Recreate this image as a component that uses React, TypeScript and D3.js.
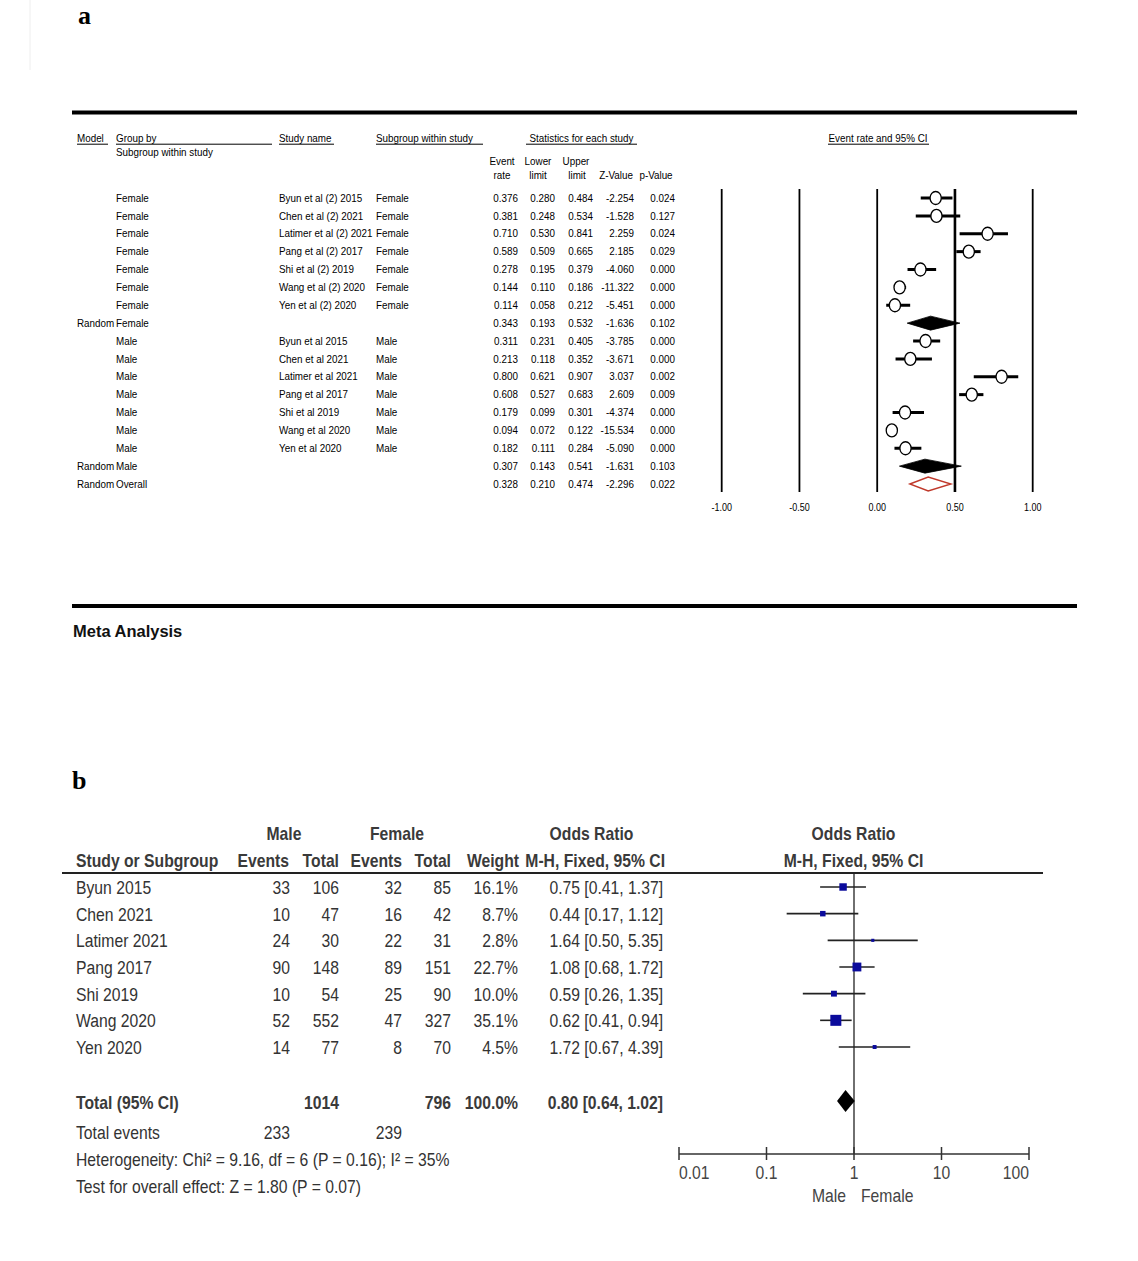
import * as d3 from "d3";

// ---- panel a: event rate by subgroup ----
const modelLabels = ["", "", "", "", "", "", "", "Random", "", "", "", "", "", "", "", "Random", "Random"];
const groupLabels = [
  "Female", "Female", "Female", "Female", "Female", "Female", "Female", "Female",
  "Male", "Male", "Male", "Male", "Male", "Male", "Male", "Male", "Overall",
];
const studyNames = [
  "Byun et al (2) 2015", "Chen et al (2) 2021", "Latimer et al (2) 2021", "Pang et al (2) 2017",
  "Shi et al (2) 2019", "Wang et al (2) 2020", "Yen et al (2) 2020", "",
  "Byun et al 2015", "Chen et al 2021", "Latimer et al 2021", "Pang et al 2017",
  "Shi et al 2019", "Wang et al 2020", "Yen et al 2020", "", "",
];
const subgroups = [
  "Female", "Female", "Female", "Female", "Female", "Female", "Female", "",
  "Male", "Male", "Male", "Male", "Male", "Male", "Male", "", "",
];
const rowKind = [
  "study", "study", "study", "study", "study", "study", "study", "sub",
  "study", "study", "study", "study", "study", "study", "study", "sub", "overall",
];
const eventRate = [0.376, 0.381, 0.71, 0.589, 0.278, 0.144, 0.114, 0.343, 0.311, 0.213, 0.8, 0.608, 0.179, 0.094, 0.182, 0.307, 0.328];
const lowerLimit = [0.28, 0.248, 0.53, 0.509, 0.195, 0.11, 0.058, 0.193, 0.231, 0.118, 0.621, 0.527, 0.099, 0.072, 0.111, 0.143, 0.21];
const upperLimit = [0.484, 0.534, 0.841, 0.665, 0.379, 0.186, 0.212, 0.532, 0.405, 0.352, 0.907, 0.683, 0.301, 0.122, 0.284, 0.541, 0.474];
const zValue = [-2.254, -1.528, 2.259, 2.185, -4.06, -11.322, -5.451, -1.636, -3.785, -3.671, 3.037, 2.609, -4.374, -15.534, -5.09, -1.631, -2.296];
const pValue = [0.024, 0.127, 0.024, 0.029, 0, 0, 0, 0.102, 0, 0, 0.002, 0.009, 0, 0, 0, 0.103, 0.022];
const ticksA = [-1, -0.5, 0, 0.5, 1];

// ---- panel b: odds ratio male vs female ----
const studiesB = ["Byun 2015", "Chen 2021", "Latimer 2021", "Pang 2017", "Shi 2019", "Wang 2020", "Yen 2020"];
const maleEvents = [33, 10, 24, 90, 10, 52, 14];
const maleTotal = [106, 47, 30, 148, 54, 552, 77];
const femaleEvents = [32, 16, 22, 89, 25, 47, 8];
const femaleTotal = [85, 42, 31, 151, 90, 327, 70];
const weights = [16.1, 8.7, 2.8, 22.7, 10.0, 35.1, 4.5];
const oddsRatio = [0.75, 0.44, 1.64, 1.08, 0.59, 0.62, 1.72];
const orLower = [0.41, 0.17, 0.5, 0.68, 0.26, 0.41, 0.67];
const orUpper = [1.37, 1.12, 5.35, 1.72, 1.35, 0.94, 4.39];
const totalOR = [0.8, 0.64, 1.02];
const totalN = [1014, 796];
const totalEvents = [233, 239];
const ticksB = [0.01, 0.1, 1, 10, 100];

const SANS = "'Liberation Sans', Arial, sans-serif";

// d3.format uses a unicode minus; the source figure uses a plain hyphen
const fmt = (spec: string) => {
  const f = d3.format(spec);
  return (v: number) => f(v).replace("\u2212", "-");
};

function T({ x, y, s = 1, anchor = "start", size, weight = "normal", fill = "#111", family = SANS, children }: any) {
  return (
    <text
      transform={`translate(${x},${y}) scale(${s},1)`}
      textAnchor={anchor}
      fontSize={size}
      fontWeight={weight}
      fill={fill}
      fontFamily={family}
    >
      {children}
    </text>
  );
}

function PanelA() {
  const x = d3.scaleLinear().domain([-1, 1]).range([721.7, 1032.7]);
  const y = d3.scaleLinear().domain([0, 16]).range([198, 484]);
  const f3 = fmt(".3f");
  const f2 = fmt(".2f");
  const sz = 10.6;
  const sc = 0.93;
  const A = (p: any) => <T size={sz} s={sc} fill="#000" {...p} />;
  const hb = 141.7;

  return (
    <g>
      <line x1={72} x2={1077} y1={112.5} y2={112.5} stroke="#000" strokeWidth={4} />
      {/* headers */}
      <A x={77} y={hb}>Model</A>
      <A x={116} y={hb}>Group by</A>
      <A x={116} y={155.5}>Subgroup within study</A>
      <A x={279} y={hb}>Study name</A>
      <A x={376} y={hb}>Subgroup within study</A>
      <A x={581.5} y={hb} anchor="middle">Statistics for each study</A>
      <A x={878} y={hb} anchor="middle">Event rate and 95% CI</A>
      {[[77, 108], [116, 272], [279, 334], [376, 483], [526, 637], [828, 929]].map(([a, b], i) => (
        <line key={i} x1={a} x2={b} y1={hb + 2.5} y2={hb + 2.5} stroke="#000" strokeWidth={1} />
      ))}
      <A x={502} y={165} anchor="middle">Event</A>
      <A x={538} y={165} anchor="middle">Lower</A>
      <A x={576} y={165} anchor="middle">Upper</A>
      <A x={502} y={179} anchor="middle">rate</A>
      <A x={538} y={179} anchor="middle">limit</A>
      <A x={577} y={179} anchor="middle">limit</A>
      <A x={616} y={179} anchor="middle">Z-Value</A>
      <A x={656} y={179} anchor="middle">p-Value</A>

      {/* rows */}
      {eventRate.map((v, i) => {
        const by = y(i) + 3.7;
        return (
          <g key={i}>
            {modelLabels[i] && <A x={77} y={by}>{modelLabels[i]}</A>}
            <A x={116} y={by}>{groupLabels[i]}</A>
            {studyNames[i] && <A x={279} y={by}>{studyNames[i]}</A>}
            {subgroups[i] && <A x={376} y={by}>{subgroups[i]}</A>}
            <A x={518} y={by} anchor="end">{f3(v)}</A>
            <A x={555} y={by} anchor="end">{f3(lowerLimit[i])}</A>
            <A x={593} y={by} anchor="end">{f3(upperLimit[i])}</A>
            <A x={634} y={by} anchor="end">{f3(zValue[i])}</A>
            <A x={675} y={by} anchor="end">{f3(pValue[i])}</A>
          </g>
        );
      })}

      {/* plot grid */}
      {ticksA.map((t) => (
        <g key={t}>
          <line x1={x(t)} x2={x(t)} y1={189} y2={492} stroke="#000" strokeWidth={t === 0.5 ? 2.6 : 1.8} />
          <T x={x(t)} y={511} size={10} s={0.9} anchor="middle" fill="#000">{f2(t)}</T>
        </g>
      ))}

      {/* markers */}
      {eventRate.map((v, i) => {
        const cy = y(i);
        if (rowKind[i] === "study") {
          return (
            <g key={i}>
              <line x1={x(lowerLimit[i])} x2={x(upperLimit[i])} y1={cy} y2={cy} stroke="#000" strokeWidth={3} />
              <ellipse cx={x(v)} cy={cy} rx={5.6} ry={6.5} fill="#fff" stroke="#000" strokeWidth={1.3} />
            </g>
          );
        }
        const pts = [
          [x(lowerLimit[i]), cy],
          [x(v), cy - 7],
          [x(upperLimit[i]), cy],
          [x(v), cy + 7],
        ];
        const d = "M" + pts.map((p) => p.join(",")).join("L") + "Z";
        return rowKind[i] === "sub" ? (
          <path key={i} d={d} fill="#000" stroke="#000" strokeWidth={0.8} />
        ) : (
          <path key={i} d={d} fill="#fff" stroke="#c0392b" strokeWidth={1.4} />
        );
      })}

      <line x1={72} x2={1077} y1={606} y2={606} stroke="#000" strokeWidth={4} />
      <T x={73} y={637} size={17} weight="bold" s={0.97} fill="#111">Meta Analysis</T>
    </g>
  );
}

function PanelB() {
  const x = d3.scaleLog().domain([0.01, 100]).range([679, 1029]);
  const y = d3.scaleLinear().domain([0, 6]).range([887, 1047]);
  const size = d3.scaleSqrt().domain([0, 35.1]).range([0, 11]);
  const f1 = fmt(".1f");
  const f2 = fmt(".2f");
  const fz = 18.5;
  const sc = 0.85;
  const col = "#333";
  const B = (p: any) => <T size={fz} s={sc} fill={col} {...p} />;
  const H = (p: any) => <T size={fz} s={sc} fill="#3a3a3a" weight="bold" {...p} />;
  const orText = (m: number, l: number, u: number) => `${f2(m)} [${f2(l)}, ${f2(u)}]`;
  const axisY = 1154;

  return (
    <g>
      <H x={284} y={840} anchor="middle">Male</H>
      <H x={397} y={840} anchor="middle">Female</H>
      <H x={591.5} y={840} anchor="middle">Odds Ratio</H>
      <H x={853.5} y={840} anchor="middle">Odds Ratio</H>
      <H x={76} y={867}>Study or Subgroup</H>
      <H x={289} y={867} anchor="end">Events</H>
      <H x={339} y={867} anchor="end">Total</H>
      <H x={402} y={867} anchor="end">Events</H>
      <H x={451} y={867} anchor="end">Total</H>
      <H x={519} y={867} anchor="end">Weight</H>
      <H x={665} y={867} anchor="end">M-H, Fixed, 95% CI</H>
      <H x={853.5} y={867} anchor="middle">M-H, Fixed, 95% CI</H>
      <line x1={62} x2={1043} y1={873} y2={873} stroke="#222" strokeWidth={2} />

      {studiesB.map((s, i) => {
        const by = y(i) + 7;
        return (
          <g key={s}>
            <B x={76} y={by}>{s}</B>
            <B x={290} y={by} anchor="end">{maleEvents[i]}</B>
            <B x={339} y={by} anchor="end">{maleTotal[i]}</B>
            <B x={402} y={by} anchor="end">{femaleEvents[i]}</B>
            <B x={451} y={by} anchor="end">{femaleTotal[i]}</B>
            <B x={518} y={by} anchor="end">{f1(weights[i]) + "%"}</B>
            <B x={663} y={by} anchor="end">{orText(oddsRatio[i], orLower[i], orUpper[i])}</B>
          </g>
        );
      })}

      <H x={76} y={1109}>Total (95% CI)</H>
      <H x={339} y={1109} anchor="end">{totalN[0]}</H>
      <H x={451} y={1109} anchor="end">{totalN[1]}</H>
      <H x={518} y={1109} anchor="end">{f1(100) + "%"}</H>
      <H x={663} y={1109} anchor="end">{orText(totalOR[0], totalOR[1], totalOR[2])}</H>
      <B x={76} y={1139}>Total events</B>
      <B x={290} y={1139} anchor="end">{totalEvents[0]}</B>
      <B x={402} y={1139} anchor="end">{totalEvents[1]}</B>
      <B x={76} y={1166}>Heterogeneity: Chi² = 9.16, df = 6 (P = 0.16); I² = 35%</B>
      <B x={76} y={1193}>Test for overall effect: Z = 1.80 (P = 0.07)</B>

      {/* plot */}
      <line x1={x(1)} x2={x(1)} y1={873} y2={axisY} stroke="#222" strokeWidth={1.3} />
      {studiesB.map((s, i) => {
        const w = size(weights[i]);
        return (
          <g key={s}>
            <line x1={x(orLower[i])} x2={x(orUpper[i])} y1={y(i)} y2={y(i)} stroke="#222" strokeWidth={1.6} />
            <rect x={x(oddsRatio[i]) - w / 2} y={y(i) - w / 2} width={w} height={w} fill="#0b0b9c" />
          </g>
        );
      })}
      <path
        d={`M${x(totalOR[1])},1101 L${x(totalOR[0])},1090 L${x(totalOR[2])},1101 L${x(totalOR[0])},1112 Z`}
        fill="#000"
      />
      <line x1={x(0.01)} x2={x(100)} y1={axisY} y2={axisY} stroke="#333" strokeWidth={1.5} />
      {ticksB.map((t, i) => (
        <g key={t}>
          <line x1={x(t)} x2={x(t)} y1={axisY - 7} y2={axisY + 6} stroke="#333" strokeWidth={1.5} />
          <T
            x={x(t)}
            y={1179}
            size={fz}
            s={sc}
            fill="#444"
            anchor={i === 0 ? "start" : i === ticksB.length - 1 ? "end" : "middle"}
          >
            {String(t)}
          </T>
        </g>
      ))}
      <T x={846} y={1202} size={fz} s={sc} fill="#444" anchor="end">Male</T>
      <T x={861} y={1202} size={fz} s={sc} fill="#444">Female</T>
    </g>
  );
}

export default function App() {
  return (
    <svg
      width={1138}
      height={1261}
      style={{ position: "absolute", left: 0, top: 0, background: "#fff" }}
    >
      <rect width={1138} height={1261} fill="#fff" />
      <line x1={30} x2={30} y1={0} y2={70} stroke="#eee" strokeWidth={1} />
      <T x={78} y={24} size={26} weight="bold" family="'Liberation Serif', 'Times New Roman', serif" fill="#000">a</T>
      <T x={72} y={789} size={26} weight="bold" family="'Liberation Serif', 'Times New Roman', serif" fill="#000">b</T>
      <PanelA />
      <PanelB />
    </svg>
  );
}
